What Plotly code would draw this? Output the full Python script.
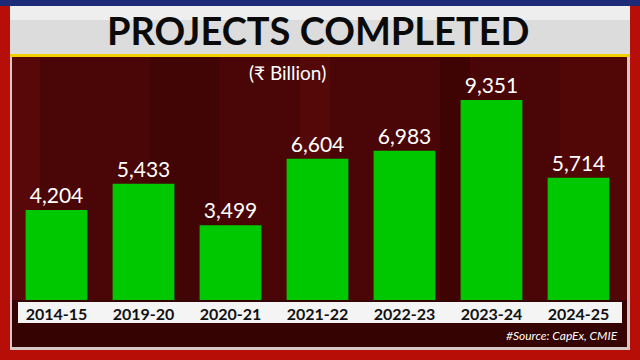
import plotly.graph_objects as go

years = ["2014-15", "2019-20", "2020-21", "2021-22", "2022-23", "2023-24", "2024-25"]
values = [4204, 5433, 3499, 6604, 6983, 9351, 5714]
labels = ["4,204", "5,433", "3,499", "6,604", "6,983", "9,351", "5,714"]

W, H = 640, 360
L, R, T, B = 13, 18, 60, 60
PW, PH = W - L - R, H - T - B

def px(x):
    return (x - L) / PW

def py(y):
    return (H - B - y) / PH

fig = go.Figure()
fig.add_trace(go.Bar(
    x=years, y=values, text=labels, textposition="outside",
    textfont=dict(color="white", size=21, family="Lato"),
    marker=dict(color="#00c800", line=dict(width=0)),
    cliponaxis=False,
))

shapes = []
def rect(x0, y0, x1, y1, color, layer="below"):
    shapes.append(dict(type="rect", xref="paper", yref="paper",
                       x0=px(x0), x1=px(x1), y0=py(y1), y1=py(y0),
                       fillcolor=color, line=dict(width=0), layer=layer))

# top blue strip
rect(0, 0, 640, 6, "#1c2a78")
# silver frame lines
rect(10, 52, 630, 350, "#d8c8c8")
# inner maroon panel
rect(12, 57, 627, 347, "#4a0606")
# subtle vertical streaks
for x0, x1, c in [(12, 40, "#580808"), (150, 220, "#420505"), (300, 330, "#540808"),
                  (440, 470, "#3e0404"), (560, 627, "#520707")]:
    rect(x0, 57, x1, 300, c)
rect(12, 300, 627, 347, "#360303")
# title band
rect(10, 6, 630, 55, "#dcdcdc")
rect(10, 6, 630, 20, "#eeeeee")
# yellow line
rect(10, 54, 630, 57, "#f0d000")
# white category band
rect(18, 302, 622, 323, "#f4f4f4")

fig.update_layout(
    width=W, height=H,
    margin=dict(l=L, r=R, t=T, b=B),
    paper_bgcolor="#b80e08",
    plot_bgcolor="rgba(0,0,0,0)",
    bargap=0.29,
    showlegend=False,
    shapes=shapes,
    xaxis=dict(showgrid=False, zeroline=False, showline=False, ticks="",
               tickfont=dict(family="Lato", size=16, color="#111111", weight="bold"),
               ticklabelstandoff=3, fixedrange=True),
    yaxis=dict(range=[0, 11221], visible=False, fixedrange=True),
    annotations=[
        dict(text="<b>PROJECTS COMPLETED</b>", xref="paper", yref="paper",
             x=px(318), y=py(30), xanchor="center", yanchor="middle",
             showarrow=False, font=dict(family="Lato", size=38, color="#0a0a0a")),
        dict(text="(₹ Billion)", xref="paper", yref="paper",
             x=px(287), y=py(72), xanchor="center", yanchor="middle",
             showarrow=False, font=dict(family="Lato", size=19, color="white")),
        dict(text="<i>#Source: CapEx, CMIE</i>", xref="paper", yref="paper",
             x=px(620), y=py(335), xanchor="right", yanchor="middle",
             showarrow=False, font=dict(family="Lato", size=12, color="white")),
    ],
)

fig.write_html("out.html", config={"displayModeBar": False},
               post_script="document.body.style.margin='0';document.body.style.overflow='hidden';")
